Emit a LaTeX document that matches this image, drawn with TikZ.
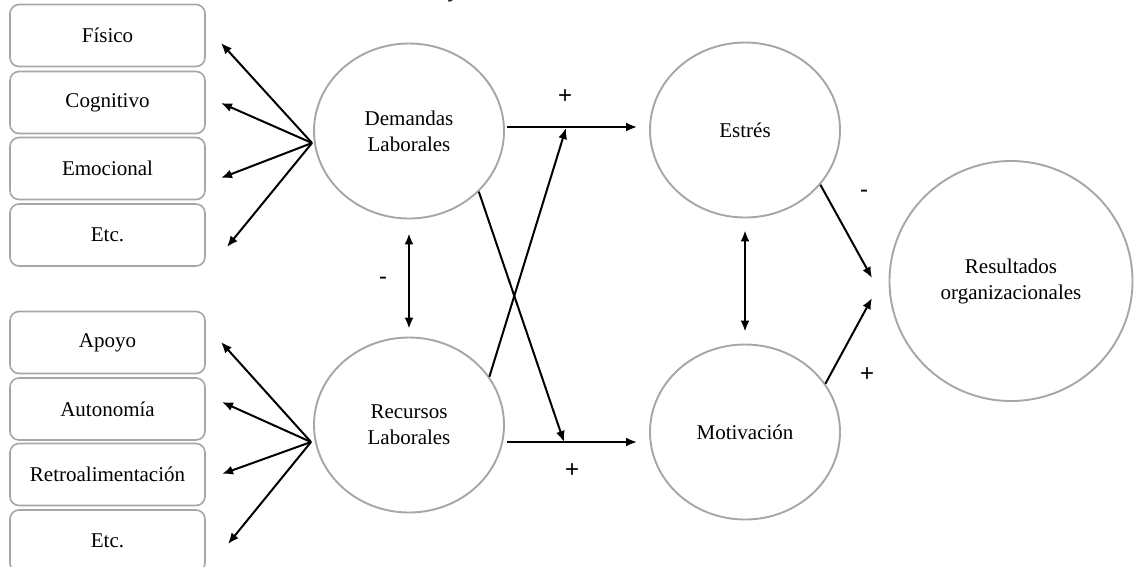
\documentclass[tikz,border=0pt]{standalone}
\usepackage{fontspec}
\setmainfont{Liberation Serif}
\newfontfamily\signfont{Liberation Sans}
\usetikzlibrary{arrows.meta,shapes.geometric}
\definecolor{rim}{HTML}{A6A6A6}
\tikzset{
  item/.style={draw=rim, line width=1.6pt, rounded corners=9pt,
    minimum width=195pt, minimum height=62pt, inner sep=0pt},
  factor/.style={ellipse, draw=rim, line width=1.9pt, minimum width=190pt,
    minimum height=175pt, align=center, inner sep=0pt},
  tip/.tip={Latex[length=11pt,width=9pt]},
  arr/.style={-tip, line width=2pt},
  dbl/.style={tip-tip, line width=2pt},
  sign/.style={font=\signfont\fontsize{24}{24}\selectfont}
}
\begin{document}
\begin{tikzpicture}[x=1pt, y=-1pt, every node/.style={font=\fontsize{21}{26}\selectfont}]
\useasboundingbox (0,0) rectangle (1134,566);

% title fragment at the top edge
\node[font=\bfseries\itshape\fontsize{21}{21}\selectfont, anchor=base, inner sep=0pt] (ttl) at (455,-3) {y};

% job demand items
\node[item] (fis) at (107.5,35.5)  {Físico};
\node[item] (cog) at (107.5,102.5) {Cognitivo};
\node[item] (emo) at (107.5,168.5) {Emocional};
\node[item] (etc1) at (107.5,235)  {Etc.};

% job resource items
\node[item] (apo) at (107.5,342.5) {Apoyo};
\node[item] (aut) at (107.5,409)   {Autonomía};
\node[item] (ret) at (107.5,474.5) {Retroalimentación};
\node[item] (etc2) at (107.5,541)  {Etc.};

% latent factors
\node[factor] (D) at (409,131) {Demandas\\Laborales};
\node[factor] (R) at (409,425) {Recursos\\Laborales};
\node[factor] (E) at (745,130) {Estrés};
\node[factor] (M) at (745,432) {Motivación};
\node[factor, minimum width=243pt, minimum height=240pt] (O) at (1011,281) {Resultados\\organizacionales};

% arrow ends beside the item boxes
\coordinate (tfis) at (221,43);
\coordinate (tcog) at (221,103);
\coordinate (temo) at (221,178);
\coordinate (tetc1) at (227,247);
\coordinate (tapo) at (221,342);
\coordinate (taut) at (222,402);
\coordinate (tret) at (222,474);
\coordinate (tetc2) at (228,544);

% fans from each factor to its items
\coordinate (dfan) at (312,143);
\coordinate (rfan) at (311,442);
\foreach \t in {tfis,tcog,temo,tetc1} \draw[arr] (dfan) -- (\t);
\foreach \t in {tapo,taut,tret,tetc2} \draw[arr] (rfan) -- (\t);

% main paths
\coordinate (dout) at (507,127);
\coordinate (ein) at (637,127);
\coordinate (rout) at (507,442);
\coordinate (min) at (637,442);
\draw[arr] (dout) -- (ein);
\draw[arr] (rout) -- (min);

% crossed paths onto the main paths
\coordinate (upmeet) at (566,128);
\coordinate (lowmeet) at (564,442);
\draw[arr] (R.31) -- (upmeet);
\draw[arr] (D.-41) -- (lowmeet);

% correlations
\draw[dbl, shorten <=14pt, shorten >=8pt] (D.south) -- (R.north);
\draw[dbl, shorten <=12pt, shorten >=12pt] (E.south) -- (M.north);

% paths to outcomes
\coordinate (oin1) at (872,278);
\coordinate (oin2) at (872,298);
\draw[arr] (E.-36) -- (oin1);
\draw[arr] (M.31) -- (oin2);

% signs
\node[sign] (s1) at (565,97)  {+};
\node[sign] (s2) at (572,471) {+};
\node[sign] (s3) at (383,281) {-};
\node[sign] (s4) at (864,194) {-};
\node[sign] (s5) at (867,375) {+};
\end{tikzpicture}
\end{document}
